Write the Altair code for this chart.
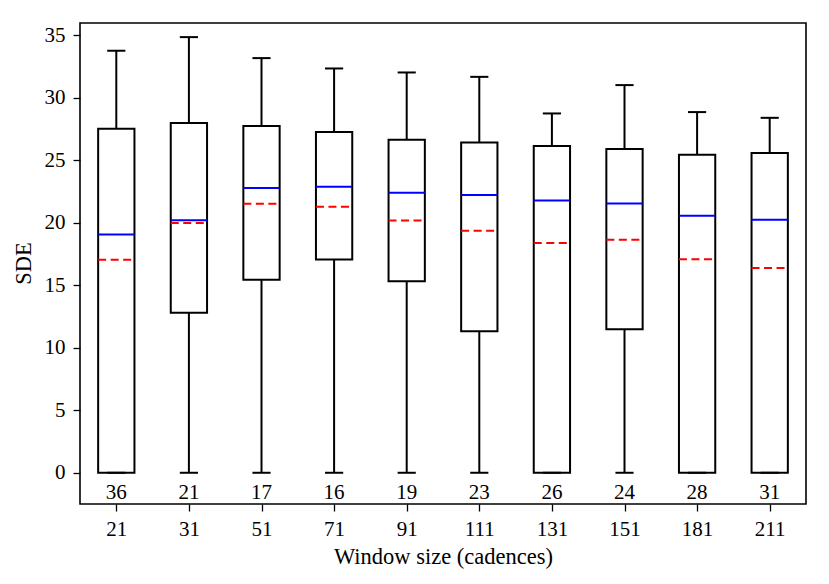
import altair as alt
import pandas as pd

windows = ["21", "31", "51", "71", "91", "111", "131", "151", "181", "211"]
counts = [36, 21, 17, 16, 19, 23, 26, 24, 28, 31]
whisk_lo = [0, 0, 0, 0, 0, 0, 0, 0, 0, 0]
q1 = [0, 12.8, 15.45, 17.08, 15.32, 11.32, 0, 11.48, 0, 0]
medians = [19.08, 20.22, 22.79, 22.9, 22.41, 22.23, 21.8, 21.56, 20.57, 20.25]
means = [17.05, 19.99, 21.53, 21.29, 20.2, 19.37, 18.39, 18.65, 17.1, 16.39]
q3 = [27.53, 28.0, 27.75, 27.27, 26.65, 26.44, 26.15, 25.91, 25.45, 25.59]
whisk_hi = [33.78, 34.87, 33.19, 32.36, 32.04, 31.69, 28.76, 31.03, 28.87, 28.41]

df = pd.DataFrame({
    "window": windows,
    "pos": list(range(1, len(windows) + 1)),
    "n": [str(c) for c in counts],
    "lo": whisk_lo,
    "q1": q1,
    "median": medians,
    "mean": means,
    "q3": q3,
    "hi": whisk_hi,
})

FONT = "Liberation Serif"
FS = 21
TFS = 22.5
LW = 2.0
label_expr = "[" + ",".join("'%s'" % w for w in windows) + "][datum.value - 1]"

xscale = alt.Scale(domain=[0.5, 10.5], nice=False, zero=False)
yscale = alt.Scale(domain=[-2.5, 36], nice=False, zero=False)

xaxis = alt.Axis(
    values=list(range(1, 11)), labelExpr=label_expr, title="Window size (cadences)",
    grid=False, domain=False, tickColor="black", tickWidth=1.3, tickSize=7,
    labelFont=FONT, labelFontSize=FS, labelColor="black", labelBaseline="alphabetic",
    labelPadding=24, titleFont=FONT, titleFontSize=TFS, titleFontWeight="normal",
    titleColor="black", titleX=363, titleY=59, titleBaseline="alphabetic", titleAlign="center",
)
yaxis = alt.Axis(
    values=[0, 5, 10, 15, 20, 25, 30, 35], title="SDE",
    grid=False, domain=False, tickColor="black", tickWidth=1.3, tickSize=7,
    labelFont=FONT, labelFontSize=FS, labelColor="black", labelPadding=8,
    titleFont=FONT, titleFontSize=TFS, titleFontWeight="normal", titleColor="black",
    titleX=-57, titleY=240, titleBaseline="middle", titleAlign="center", titleAngle=-90,
)

base = alt.Chart(df).transform_calculate(
    xl="datum.pos - 0.25", xr="datum.pos + 0.25",
    cl="datum.pos - 0.125", cr="datum.pos + 0.125",
)

boxes = base.mark_rect(fill="white", fillOpacity=0, stroke="black", strokeWidth=LW).encode(
    x=alt.X("xl:Q", scale=xscale, axis=xaxis),
    x2="xr:Q",
    y=alt.Y("q1:Q", scale=yscale, axis=yaxis),
    y2="q3:Q",
)
upper = base.mark_rule(color="black", strokeWidth=LW).encode(
    x=alt.X("pos:Q", scale=xscale), y=alt.Y("q3:Q", scale=yscale), y2="hi:Q")
lower = base.mark_rule(color="black", strokeWidth=LW).encode(
    x=alt.X("pos:Q", scale=xscale), y=alt.Y("lo:Q", scale=yscale), y2="q1:Q")
cap_hi = base.mark_rule(color="black", strokeWidth=LW).encode(
    x=alt.X("cl:Q", scale=xscale), x2="cr:Q", y=alt.Y("hi:Q", scale=yscale))
cap_lo = base.mark_rule(color="black", strokeWidth=LW).encode(
    x=alt.X("cl:Q", scale=xscale), x2="cr:Q", y=alt.Y("lo:Q", scale=yscale))
med = base.mark_rule(color="#0000ff", strokeWidth=LW).encode(
    x=alt.X("xl:Q", scale=xscale), x2="xr:Q", y=alt.Y("median:Q", scale=yscale))
mean = base.mark_rule(color="#ff0000", strokeWidth=LW, strokeDash=[8, 4.5]).encode(
    x=alt.X("xl:Q", scale=xscale), x2="xr:Q", y=alt.Y("mean:Q", scale=yscale))
ntext = base.mark_text(font=FONT, fontSize=FS, color="black", baseline="alphabetic", align="center").encode(
    x=alt.X("pos:Q", scale=xscale), y=alt.datum(-2.07, scale=yscale), text="n:N")

chart = alt.layer(boxes, upper, lower, cap_hi, cap_lo, med, mean, ntext).properties(
    width=726, height=481,
    background="white",
    autosize=alt.AutoSizeParams(type="none"),
    padding={"left": 72, "top": 15, "right": 15, "bottom": 72},
).configure_view(stroke="black", strokeWidth=1.6)

chart.save("out.html", embed_options={"renderer": "svg", "actions": False})
